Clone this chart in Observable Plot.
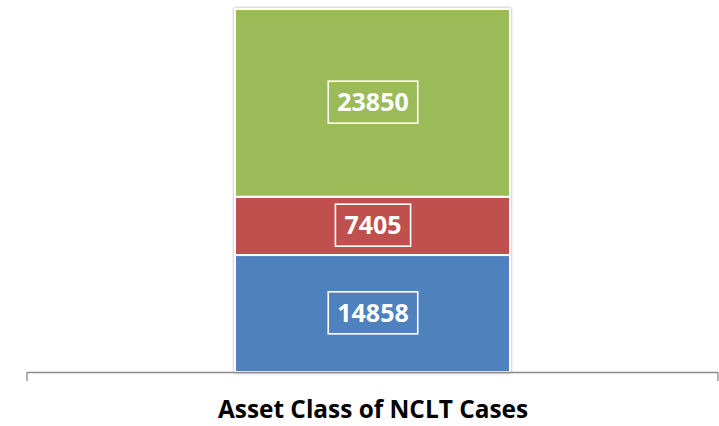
<!DOCTYPE html>
<html>
<head>
<meta charset="utf-8">
<script src="https://cdn.jsdelivr.net/npm/d3@7"></script>
<script src="https://cdn.jsdelivr.net/npm/@observablehq/plot@0.6"></script>
<style>
  html, body { margin: 0; padding: 0; background: #fff; }
  #chart svg { display: block; }
</style>
</head>
<body>
<div id="chart"></div>
<script>
const categories = ["Asset Class of NCLT Cases"];
const series = ["Series 1", "Series 2", "Series 3"];
const values = [14858, 7405, 23850];
const colors = ["#4F81BD", "#C0504D", "#9BBB59"];

const data = series.map((s, i) => ({category: categories[0], series: s, value: values[i]}));

const plot = Plot.plot({
  width: 719,
  height: 426,
  marginTop: 9,
  marginBottom: 54,
  marginLeft: 27,
  marginRight: 1,
  style: {fontFamily: "'Open Sans', sans-serif", background: "#fff"},
  x: {domain: categories, padding: 0.4306, label: null},
  y: {axis: null},
  color: {domain: series, range: colors},
  marks: [
    Plot.barY(data, Plot.stackY({
      x: "category", y: "value", fill: "series", order: null,
      stroke: "white", strokeWidth: 2,
      className: "segbars"
    })),
    Plot.ruleY([0], {stroke: "#8c8c8c", strokeWidth: 1.3}),
    Plot.text(data, Plot.stackY({
      x: "category", y: "value", order: null,
      text: d => String(d.value),
      fill: "white", fontSize: 25, fontWeight: "bold",
      className: "seglabels"
    })),
    Plot.axisX({tickSize: 0, tickPadding: 28.5, fontSize: 24.4, fontWeight: "bold", fill: "#000", label: null})
  ]
});

document.getElementById("chart").appendChild(plot);

const svg = d3.select(plot);
svg.select(".segbars").style("filter", "drop-shadow(0px 0px 1.5px rgba(0,0,0,0.35))");

// Boxes around value labels
const svgRect = plot.getBoundingClientRect();
const boxLayer = svg.append("g").attr("class", "label-boxes");
svg.selectAll(".seglabels text").each(function() {
  const r = this.getBoundingClientRect();
  const cx = r.left + r.width / 2 - svgRect.left;
  const cy = r.top + r.height / 2 - svgRect.top + 0.8;
  const w = r.width + 18, h = 42;
  boxLayer.append("rect")
    .attr("x", cx - w / 2).attr("y", cy - h / 2)
    .attr("width", w).attr("height", h)
    .attr("fill", "none").attr("stroke", "white").attr("stroke-width", 1.6);
});

// Tick marks at the ends of the category axis
const xs = plot.scale("x").range;
const y0 = plot.scale("y").range[0];
svg.append("g").selectAll("line").data(xs).join("line")
  .attr("x1", d => d).attr("x2", d => d)
  .attr("y1", y0).attr("y2", y0 + 9)
  .attr("stroke", "#8c8c8c").attr("stroke-width", 1.3);
</script>
</body>
</html>
